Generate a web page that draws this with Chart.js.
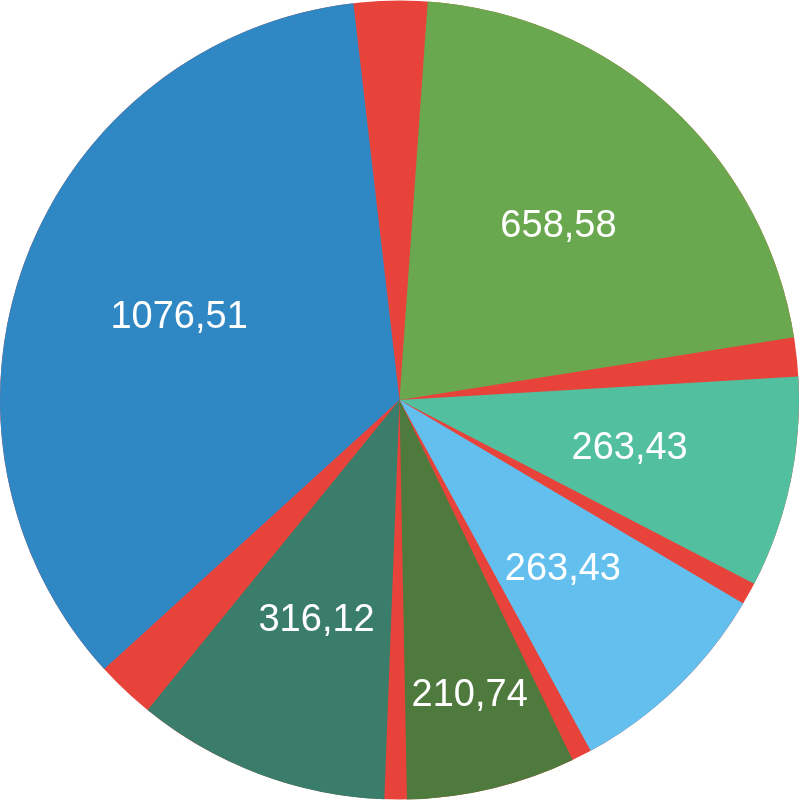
<!DOCTYPE html>
<html>
<head>
<meta charset="utf-8">
<script src="https://cdn.jsdelivr.net/npm/chart.js@4"></script>
<style>
  html, body { margin: 0; padding: 0; background: #fff; }
  #wrap { width: 799px; height: 800px; }
</style>
</head>
<body>
<div id="wrap"><canvas id="grafico"></canvas></div>
<script>
const categorias = ['A', 'B', 'C', 'D', 'E', 'F'];
const valores = [658.58, 263.43, 263.43, 210.74, 316.12, 1076.51];
const colores = ['#6aa84f', '#52bf9f', '#63c0ee', '#4e7a3e', '#3a7d6a', '#2f87c3'];
const rojo = '#e8433a';

// circulo rojo de fondo
const fondoRojo = {
    id: 'fondoRojo',
    beforeDatasetsDraw(chart) {
        const ca = chart.chartArea;
        const ctx = chart.ctx;
        const r = Math.min(ca.right - ca.left, ca.bottom - ca.top) / 2;
        ctx.save();
        ctx.beginPath();
        ctx.arc((ca.left + ca.right) / 2, (ca.top + ca.bottom) / 2, r, 0, Math.PI * 2);
        ctx.fillStyle = rojo;
        ctx.fill();
        ctx.restore();
    }
};

// etiquetas con coma decimal
const etiquetas = {
    id: 'etiquetas',
    afterDatasetsDraw(chart) {
        const ctx = chart.ctx;
        ctx.save();
        ctx.fillStyle = '#fff';
        ctx.font = '38px "Liberation Sans", Arial, sans-serif';
        ctx.textAlign = 'center';
        ctx.textBaseline = 'middle';
        chart.getDatasetMeta(0).data.forEach((arc, i) => {
            const ang = (arc.startAngle + arc.endAngle) / 2;
            const r = i === 3 ? arc.outerRadius * 0.8 : arc.outerRadius * 0.62;
            const texto = valores[i].toFixed(2).replace('.', ',');
            ctx.fillText(texto, arc.x + Math.cos(ang) * r, arc.y + Math.sin(ang) * r);
        });
        ctx.restore();
    }
};

new Chart(document.getElementById('grafico'), {
    type: 'pie',
    data: {
        labels: categorias,
        datasets: [{
            data: valores,
            backgroundColor: colores,
            borderWidth: 0,
            spacing: 40
        }]
    },
    options: {
        responsive: true,
        maintainAspectRatio: false,
        animation: false,
        layout: { padding: 0 },
        plugins: {
            legend: { display: false },
            tooltip: { enabled: false }
        }
    },
    plugins: [fondoRojo, etiquetas]
});
</script>
</body>
</html>
